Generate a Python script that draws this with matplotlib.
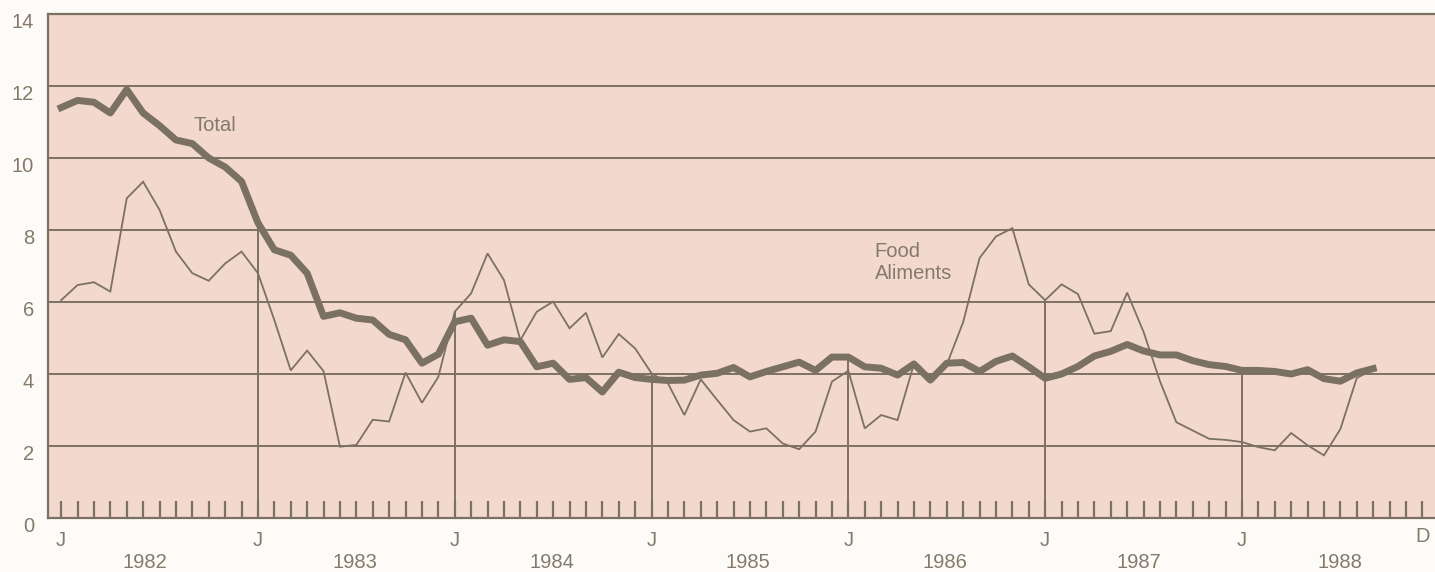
import matplotlib.pyplot as plt
import numpy as np
from matplotlib.transforms import offset_copy

plt.rcParams["font.family"] = ["Liberation Sans", "DejaVu Sans"]

# Monthly series, Jan 1982 .. Sep 1988 (month index 0 = Jan 1982)
total = [
    11.4, 11.6, 11.55, 11.25, 11.9, 11.25, 10.9, 10.5, 10.4, 10.0, 9.75, 9.35,  # 1982
    8.2, 7.45, 7.3, 6.8, 5.6, 5.7, 5.55, 5.5, 5.1, 4.95, 4.3, 4.55,  # 1983
    5.45, 5.55, 4.8, 4.95, 4.9, 4.2, 4.3, 3.85, 3.9, 3.5, 4.05, 3.9,  # 1984
    3.85, 3.82, 3.83, 3.97, 4.02, 4.18, 3.92, 4.07, 4.2, 4.33, 4.1, 4.47,  # 1985
    4.47, 4.2, 4.16, 3.97, 4.28, 3.83, 4.3, 4.32, 4.07, 4.35, 4.5, 4.2,  # 1986
    3.88, 4.0, 4.21, 4.5, 4.63, 4.82, 4.64, 4.53, 4.53, 4.37, 4.26, 4.21,  # 1987
    4.1, 4.1, 4.07, 4.0, 4.12, 3.87, 3.8, 4.03, 4.15,  # 1988
]
food = [
    6.05, 6.47, 6.55, 6.29, 8.88, 9.34, 8.56, 7.4, 6.8, 6.59, 7.07, 7.4,  # 1982
    6.8, 5.5, 4.1, 4.65, 4.08, 1.98, 2.03, 2.73, 2.68, 4.04, 3.2, 3.92,  # 1983
    5.73, 6.24, 7.35, 6.61, 4.94, 5.73, 6.01, 5.27, 5.7, 4.46, 5.11, 4.71,  # 1984
    4.02, 3.74, 2.86, 3.85, 3.28, 2.72, 2.4, 2.49, 2.07, 1.91, 2.4, 3.79,  # 1985
    4.09, 2.49, 2.86, 2.72, 4.28, 3.8, 4.26, 5.44, 7.22, 7.82, 8.05, 6.49,  # 1986
    6.05, 6.49, 6.22, 5.12, 5.19, 6.26, 5.17, 3.8, 2.66, 2.43, 2.2, 2.17,  # 1987
    2.11, 1.97, 1.88, 2.36, 2.02, 1.74, 2.47, 3.89, 4.12,  # 1988
]
years = ["1982", "1983", "1984", "1985", "1986", "1987", "1988"]
y_ticks = [0, 2, 4, 6, 8, 10, 12, 14]

# colours
bg_plot = "#F3D8CE"
ink = "#7B7162"
txt = "#847A6C"
fs = 14.5

months = np.arange(len(total))
total = np.array(total)
food = np.array(food)

fig = plt.figure(figsize=(14.35, 5.72), dpi=100)
fig.patch.set_facecolor("#FDFBF8")
ax = fig.add_axes([48 / 1435, 54 / 572, 1 - 48 / 1435, 504 / 572])
ax.set_facecolor(bg_plot)
ax.set_xlim(-0.8, 83.77)
ax.set_ylim(0, 14)

# frame: left, bottom and top only
for side in ["left", "bottom", "top"]:
    ax.spines[side].set_color(ink)
    ax.spines[side].set_linewidth(1.6)
ax.spines["right"].set_visible(False)

# horizontal grid
for v in y_ticks[1:-1]:
    ax.axhline(v, color=ink, lw=1.4, zorder=1)

# January drop lines up to the higher of the two series
for m in range(12, len(total), 12):
    ax.vlines(m, 0, max(total[m], food[m]), color=ink, lw=1.4, zorder=1)

# month ticks pointing inward
ax.set_xticks(np.arange(0, 84))
ax.tick_params(axis="x", direction="in", length=12, width=1.6, color=ink,
               labelbottom=False)
ax.set_yticks([])

ax.plot(months, food, color=ink, lw=1.3, zorder=3, solid_joinstyle="miter")
ax.plot(months, total, color=ink, lw=5, zorder=4, solid_joinstyle="round")

# y labels sit a little below their grid lines
ylab_tr = offset_copy(ax.get_yaxis_transform(), fig=fig, x=-14, y=-8, units="dots")
for v in y_ticks:
    ax.text(0, v, str(v), transform=ylab_tr, ha="right", va="center",
            fontsize=fs, color=txt)

# month letters and year labels
xlab_tr = ax.get_xaxis_transform()
for i in range(7):
    ax.text(12 * i, -22 / 504, "J", transform=xlab_tr, ha="center", va="center",
            fontsize=fs, color=txt, clip_on=False)
ax.text(83, -18 / 504, "D", transform=xlab_tr, ha="center", va="center",
        fontsize=fs, color=txt, clip_on=False)
year_pos = [5.1, 17.9, 29.9, 41.9, 53.9, 65.7, 78.0]
for yr, xp in zip(years, year_pos):
    ax.text(xp, -45 / 504, yr, transform=xlab_tr, ha="center", va="center",
            fontsize=fs, color=txt, clip_on=False)

# series labels
ax.text(8.1, 10.9, "Total", ha="left", va="center", fontsize=fs, color=txt)
ax.text(49.6, 7.39, "Food", ha="left", va="center", fontsize=fs, color=txt)
ax.text(49.6, 6.8, "Aliments", ha="left", va="center", fontsize=fs, color=txt)

fig.savefig("out.png", dpi=100, facecolor=fig.get_facecolor())
